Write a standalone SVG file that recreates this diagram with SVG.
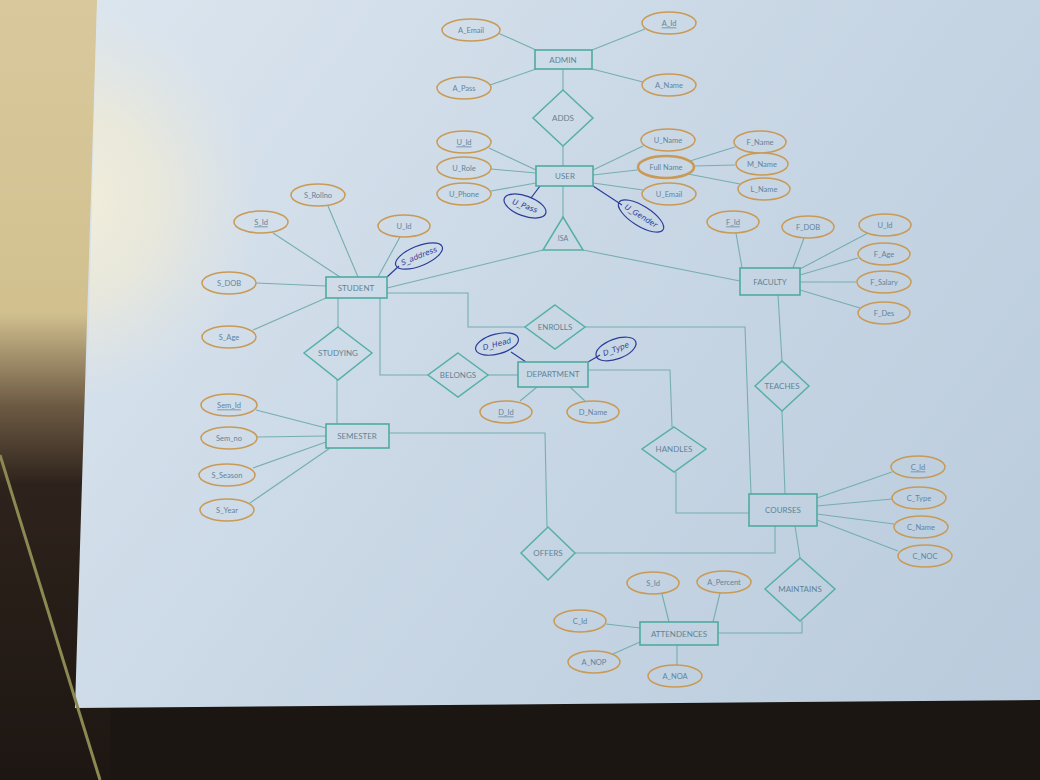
<svg xmlns="http://www.w3.org/2000/svg" width="1040" height="780" viewBox="0 0 1040 780">
<defs>
<linearGradient id="paper" gradientUnits="userSpaceOnUse" x1="100" y1="0" x2="1040" y2="700">
<stop offset="0" stop-color="#dbe5ee"/>
<stop offset="0.45" stop-color="#cad8e6"/>
<stop offset="1" stop-color="#b9cbdc"/>
</linearGradient>
<radialGradient id="glow" gradientUnits="userSpaceOnUse" cx="60" cy="200" r="200">
<stop offset="0" stop-color="#f3efd9"/>
<stop offset="0.5" stop-color="#ece9d8" stop-opacity="0.8"/>
<stop offset="1" stop-color="#e8e8e0" stop-opacity="0"/>
</radialGradient>
<linearGradient id="leftdark" x1="0" y1="0" x2="0" y2="1">
<stop offset="0" stop-color="#d8c89c"/>
<stop offset="0.4" stop-color="#d2c18f"/>
<stop offset="0.52" stop-color="#6d5a44"/>
<stop offset="0.62" stop-color="#2e231c"/>
<stop offset="1" stop-color="#1d1612"/>
</linearGradient>
</defs>
<style>
.ent{fill:url(#paper);stroke:#4faaa0;stroke-width:1.6}
.rel{fill:url(#paper);stroke:#55b0a6;stroke-width:1.5}
.att{fill:url(#paper);stroke:#c99a55;stroke-width:1.5}
.c{fill:none;stroke:#76aeb0;stroke-width:1.1}
.lb{font-family:Lato,"Liberation Sans",sans-serif;font-size:8px;fill:#5f8494;text-anchor:middle;dominant-baseline:central}
.al{font-family:Lato,"Liberation Sans",sans-serif;font-size:7.5px;fill:#62849c;text-anchor:middle;dominant-baseline:central}
.k{text-decoration:underline}
.hw{fill:none;stroke:#2b3d9a;stroke-width:1.2}
.ht{font-family:"DejaVu Sans",sans-serif;font-style:italic;font-size:7.5px;fill:#2b3d9a;text-anchor:middle;dominant-baseline:central}
</style>
<!-- background photo -->
<rect width="1040" height="780" fill="#1c1612"/>
<rect x="0" y="0" width="110" height="780" fill="url(#leftdark)"/>
<polygon points="97,0 1040,0 1040,700 75,708" fill="url(#paper)"/>
<polygon points="97,0 260,0 230,520 84,520" fill="url(#glow)"/>
<line x1="0" y1="455" x2="100" y2="780" stroke="#8c8a52" stroke-width="3"/>

<g id="connectors">
<line class="c" x1="536" y1="50" x2="498" y2="33"/>
<line class="c" x1="592" y1="50" x2="645" y2="29"/>
<line class="c" x1="536" y1="69" x2="490" y2="85"/>
<line class="c" x1="592" y1="69" x2="643" y2="82"/>
<line class="c" x1="563" y1="69" x2="563" y2="90"/>
<line class="c" x1="563" y1="146" x2="563" y2="166"/>
<line class="c" x1="536" y1="170" x2="489" y2="148"/>
<line class="c" x1="536" y1="173" x2="491" y2="169"/>
<line class="c" x1="536" y1="183" x2="491" y2="191"/>
<line class="c" x1="593" y1="170" x2="643" y2="146"/>
<line class="c" x1="593" y1="175" x2="637" y2="170"/>
<line class="c" x1="593" y1="183" x2="643" y2="190"/>
<line class="c" x1="690" y1="161" x2="735" y2="147"/>
<line class="c" x1="694" y1="166" x2="735" y2="165"/>
<line class="c" x1="688" y1="174" x2="740" y2="184"/>
<line class="c" x1="563" y1="186" x2="563" y2="217"/>
<line class="c" x1="543" y1="250" x2="387" y2="288"/>
<line class="c" x1="583" y1="250" x2="740" y2="281"/>
<line class="c" x1="358" y1="277" x2="328" y2="206"/>
<line class="c" x1="340" y1="277" x2="273" y2="233"/>
<line class="c" x1="378" y1="277" x2="400" y2="237"/>
<line class="c" x1="326" y1="286" x2="256" y2="283"/>
<line class="c" x1="326" y1="298" x2="253" y2="330"/>
<line class="c" x1="338" y1="298" x2="338" y2="328"/>
<line class="c" x1="337" y1="380" x2="337" y2="424"/>
<polyline class="c" points="387,293 468,293 468,327 525,327"/>
<polyline class="c" points="585,327 745,327 751,494"/>
<polyline class="c" points="380,298 380,375 428,375"/>
<line class="c" x1="488" y1="375" x2="518" y2="375"/>
<line class="c" x1="537" y1="387" x2="520" y2="401"/>
<line class="c" x1="570" y1="387" x2="585" y2="401"/>
<polyline class="c" points="588,370 670,370 672,427"/>
<polyline class="c" points="676,472 676,513 749,513"/>
<line class="c" x1="326" y1="428" x2="256" y2="410"/>
<line class="c" x1="326" y1="436" x2="257" y2="437"/>
<line class="c" x1="326" y1="442" x2="253" y2="468"/>
<line class="c" x1="330" y1="448" x2="250" y2="503"/>
<polyline class="c" points="389,433 545,433 547,527"/>
<polyline class="c" points="575,553 775,553 775,526"/>
<line class="c" x1="742" y1="268" x2="736" y2="233"/>
<line class="c" x1="793" y1="268" x2="804" y2="238"/>
<line class="c" x1="798" y1="270" x2="868" y2="233"/>
<line class="c" x1="800" y1="275" x2="858" y2="258"/>
<line class="c" x1="800" y1="282" x2="856" y2="282"/>
<line class="c" x1="800" y1="290" x2="860" y2="308"/>
<line class="c" x1="778" y1="295" x2="782" y2="361"/>
<line class="c" x1="782" y1="411" x2="785" y2="494"/>
<line class="c" x1="817" y1="498" x2="892" y2="472"/>
<line class="c" x1="817" y1="506" x2="892" y2="499"/>
<line class="c" x1="817" y1="514" x2="894" y2="524"/>
<line class="c" x1="817" y1="520" x2="898" y2="551"/>
<line class="c" x1="795" y1="526" x2="800" y2="558"/>
<polyline class="c" points="802,621 802,633 718,633"/>
<line class="c" x1="669" y1="622" x2="662" y2="594"/>
<line class="c" x1="713" y1="622" x2="720" y2="593"/>
<line class="c" x1="640" y1="628" x2="606" y2="624"/>
<line class="c" x1="640" y1="642" x2="613" y2="654"/>
<line class="c" x1="677" y1="645" x2="677" y2="665"/>
<line class="hw" x1="540" y1="186" x2="531" y2="198"/>
<line class="hw" x1="593" y1="186" x2="622" y2="205"/>
<line class="hw" x1="387" y1="277" x2="399" y2="266"/>
<line class="hw" x1="526" y1="362" x2="511" y2="352"/>
<line class="hw" x1="588" y1="362" x2="600" y2="355"/>
</g>

<g id="admin"><rect class="ent" x="535" y="50" width="57" height="19"/><text class="lb" x="563" y="60">ADMIN</text></g>
<g id="a_email"><ellipse class="att" cx="471" cy="30" rx="29" ry="11"/><text class="al" x="471" y="30">A_Email</text></g>
<g id="a_id"><ellipse class="att" cx="669" cy="23" rx="27" ry="11"/><text class="al k" x="669" y="23">A_Id</text></g>
<g id="a_pass"><ellipse class="att" cx="464" cy="88" rx="27" ry="11"/><text class="al" x="464" y="88">A_Pass</text></g>
<g id="a_name"><ellipse class="att" cx="669" cy="85" rx="27" ry="11"/><text class="al" x="669" y="85">A_Name</text></g>
<g id="adds"><polygon class="rel" points="563,90 593,118 563,146 533,118"/><text class="lb" x="563" y="118">ADDS</text></g>

<g id="user"><rect class="ent" x="536" y="166" width="57" height="20"/><text class="lb" x="565" y="176">USER</text></g>
<g id="u_id"><ellipse class="att" cx="464" cy="142" rx="27" ry="11"/><text class="al k" x="464" y="142">U_Id</text></g>
<g id="u_role"><ellipse class="att" cx="464" cy="168" rx="27" ry="11"/><text class="al" x="464" y="168">U_Role</text></g>
<g id="u_phone"><ellipse class="att" cx="464" cy="194" rx="27" ry="11"/><text class="al" x="464" y="194">U_Phone</text></g>
<g id="u_name"><ellipse class="att" cx="668" cy="140" rx="27" ry="11"/><text class="al" x="668" y="140">U_Name</text></g>
<g id="full_name"><ellipse class="att" cx="666" cy="167" rx="28" ry="11" style="stroke-width:2.6"/><text class="al" x="666" y="167">Full Name</text></g>
<g id="u_email"><ellipse class="att" cx="669" cy="194" rx="27" ry="11"/><text class="al" x="669" y="194">U_Email</text></g>
<g id="f_name"><ellipse class="att" cx="760" cy="142" rx="26" ry="11"/><text class="al" x="760" y="142">F_Name</text></g>
<g id="m_name"><ellipse class="att" cx="762" cy="164" rx="26" ry="11"/><text class="al" x="762" y="164">M_Name</text></g>
<g id="l_name"><ellipse class="att" cx="764" cy="189" rx="26" ry="11"/><text class="al" x="764" y="189">L_Name</text></g>
<g id="u_pass_hw"><ellipse class="hw" cx="525" cy="206" rx="22" ry="10" transform="rotate(20 525 206)"/><text class="ht" x="525" y="206" transform="rotate(20 525 206)">U_Pass</text></g>
<g id="u_gender_hw"><ellipse class="hw" cx="641" cy="216" rx="26" ry="10" transform="rotate(32 641 216)"/><text class="ht" x="641" y="216" transform="rotate(32 641 216)">U_Gender</text></g>

<g id="isa"><polygon class="rel" points="563,217 583,250 543,250"/><text class="lb" x="563" y="238" style="font-size:7px">ISA</text></g>

<g id="student"><rect class="ent" x="326" y="277" width="61" height="21"/><text class="lb" x="356" y="288">STUDENT</text></g>
<g id="s_rollno"><ellipse class="att" cx="318" cy="195" rx="27" ry="11"/><text class="al" x="318" y="195">S_Rollno</text></g>
<g id="s_id"><ellipse class="att" cx="261" cy="222" rx="27" ry="11"/><text class="al k" x="261" y="222">S_Id</text></g>
<g id="s_uid"><ellipse class="att" cx="404" cy="226" rx="26" ry="11"/><text class="al" x="404" y="226">U_Id</text></g>
<g id="s_dob"><ellipse class="att" cx="229" cy="283" rx="27" ry="11"/><text class="al" x="229" y="283">S_DOB</text></g>
<g id="s_age"><ellipse class="att" cx="229" cy="337" rx="27" ry="11"/><text class="al" x="229" y="337">S_Age</text></g>
<g id="s_address_hw"><ellipse class="hw" cx="419" cy="256" rx="25" ry="10" transform="rotate(-22 419 256)"/><text class="ht" x="419" y="256" transform="rotate(-22 419 256)">S_address</text></g>

<g id="studying"><polygon class="rel" points="338,327 372,353 338,380 304,353"/><text class="lb" x="338" y="353">STUDYING</text></g>

<g id="semester"><rect class="ent" x="326" y="424" width="63" height="24"/><text class="lb" x="357" y="436">SEMESTER</text></g>
<g id="sem_id"><ellipse class="att" cx="229" cy="405" rx="28" ry="11"/><text class="al k" x="229" y="405">Sem_Id</text></g>
<g id="sem_no"><ellipse class="att" cx="229" cy="438" rx="28" ry="11"/><text class="al" x="229" y="438">Sem_no</text></g>
<g id="s_season"><ellipse class="att" cx="227" cy="475" rx="28" ry="11"/><text class="al" x="227" y="475">S_Season</text></g>
<g id="s_year"><ellipse class="att" cx="227" cy="510" rx="27" ry="11"/><text class="al" x="227" y="510">S_Year</text></g>

<g id="faculty"><rect class="ent" x="740" y="268" width="60" height="27"/><text class="lb" x="770" y="282">FACULTY</text></g>
<g id="f_id"><ellipse class="att" cx="733" cy="222" rx="26" ry="11"/><text class="al k" x="733" y="222">F_Id</text></g>
<g id="f_dob"><ellipse class="att" cx="808" cy="227" rx="26" ry="11"/><text class="al" x="808" y="227">F_DOB</text></g>
<g id="f_uid"><ellipse class="att" cx="885" cy="225" rx="26" ry="11"/><text class="al" x="885" y="225">U_Id</text></g>
<g id="f_age"><ellipse class="att" cx="884" cy="254" rx="26" ry="11"/><text class="al" x="884" y="254">F_Age</text></g>
<g id="f_salary"><ellipse class="att" cx="884" cy="282" rx="27" ry="11"/><text class="al" x="884" y="282">F_Salary</text></g>
<g id="f_des"><ellipse class="att" cx="884" cy="313" rx="26" ry="11"/><text class="al" x="884" y="313">F_Des</text></g>

<g id="enrolls"><polygon class="rel" points="555,305 585,327 555,349 525,327"/><text class="lb" x="555" y="327">ENROLLS</text></g>
<g id="belongs"><polygon class="rel" points="458,353 488,375 458,397 428,375"/><text class="lb" x="458" y="375">BELONGS</text></g>

<g id="department"><rect class="ent" x="518" y="362" width="70" height="25"/><text class="lb" x="553" y="374">DEPARTMENT</text></g>
<g id="d_id"><ellipse class="att" cx="506" cy="412" rx="26" ry="11"/><text class="al k" x="506" y="412">D_Id</text></g>
<g id="d_name"><ellipse class="att" cx="593" cy="412" rx="26" ry="11"/><text class="al" x="593" y="412">D_Name</text></g>
<g id="d_head_hw"><ellipse class="hw" cx="497" cy="344" rx="22" ry="10" transform="rotate(-15 497 344)"/><text class="ht" x="497" y="344" transform="rotate(-15 497 344)">D_Head</text></g>
<g id="d_type_hw"><ellipse class="hw" cx="616" cy="349" rx="21" ry="10" transform="rotate(-20 616 349)"/><text class="ht" x="616" y="349" transform="rotate(-20 616 349)">D_Type</text></g>

<g id="teaches"><polygon class="rel" points="782,361 809,386 782,411 755,386"/><text class="lb" x="782" y="386">TEACHES</text></g>
<g id="handles"><polygon class="rel" points="674,427 706,449 674,472 642,449"/><text class="lb" x="674" y="449">HANDLES</text></g>

<g id="courses"><rect class="ent" x="749" y="494" width="68" height="32"/><text class="lb" x="783" y="510">COURSES</text></g>
<g id="c_id"><ellipse class="att" cx="918" cy="467" rx="27" ry="11"/><text class="al k" x="918" y="467">C_Id</text></g>
<g id="c_type"><ellipse class="att" cx="919" cy="498" rx="27" ry="11"/><text class="al" x="919" y="498">C_Type</text></g>
<g id="c_name"><ellipse class="att" cx="921" cy="527" rx="27" ry="11"/><text class="al" x="921" y="527">C_Name</text></g>
<g id="c_noc"><ellipse class="att" cx="925" cy="556" rx="27" ry="11"/><text class="al" x="925" y="556">C_NOC</text></g>

<g id="offers"><polygon class="rel" points="548,527 575,553 548,580 521,553"/><text class="lb" x="548" y="553">OFFERS</text></g>
<g id="maintains"><polygon class="rel" points="800,558 835,589 800,621 765,589"/><text class="lb" x="800" y="589">MAINTAINS</text></g>

<g id="attendences"><rect class="ent" x="640" y="622" width="78" height="23"/><text class="lb" x="679" y="634">ATTENDENCES</text></g>
<g id="at_sid"><ellipse class="att" cx="653" cy="583" rx="26" ry="11"/><text class="al" x="653" y="583">S_Id</text></g>
<g id="a_percent"><ellipse class="att" cx="724" cy="582" rx="27" ry="11"/><text class="al" x="724" y="582">A_Percent</text></g>
<g id="at_cid"><ellipse class="att" cx="580" cy="621" rx="26" ry="11"/><text class="al" x="580" y="621">C_Id</text></g>
<g id="a_nop"><ellipse class="att" cx="594" cy="662" rx="26" ry="11"/><text class="al" x="594" y="662">A_NOP</text></g>
<g id="a_noa"><ellipse class="att" cx="675" cy="676" rx="27" ry="11"/><text class="al" x="675" y="676">A_NOA</text></g>
</svg>
